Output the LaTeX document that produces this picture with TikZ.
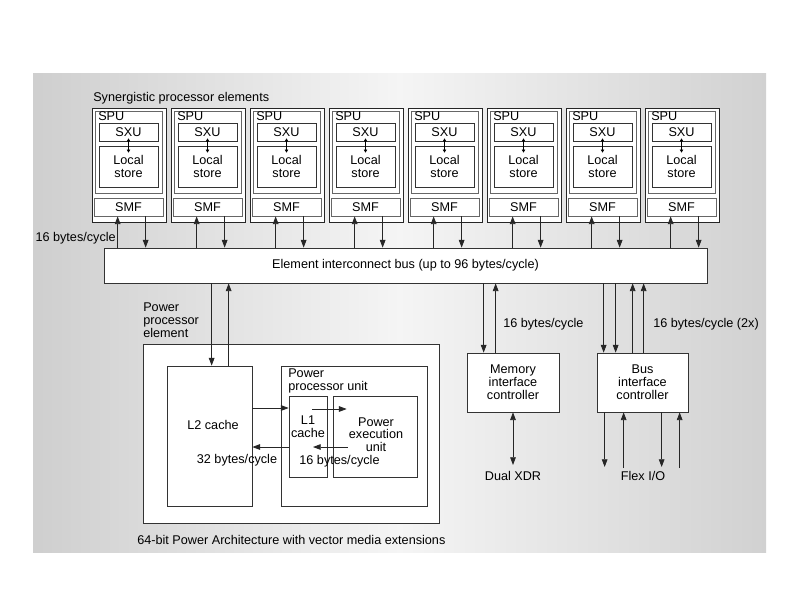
\documentclass[tikz,border=0pt]{standalone}
\usepackage{fontspec}
\setmainfont{Liberation Sans}
\usetikzlibrary{arrows.meta}
\newcommand{\pxu}{0.025cm}
\tikzset{box/.style={draw=black!80, line width=0.5pt, fill=white, inner sep=0pt, align=center},
  arr/.style={-{Triangle[length=5.5pt,width=4pt]}, line width=0.6pt, draw=black!85},
  dbl/.style={{Triangle[length=5.5pt,width=4pt]}-{Triangle[length=5.5pt,width=4pt]}, line width=0.6pt, draw=black!85},
  tiny/.style={{Triangle[length=2.2pt,width=2.4pt]}-{Triangle[length=2.2pt,width=2.4pt]}, line width=0.4pt},
  lbl/.style={inner sep=0pt, align=left}}

\begin{document}
\begin{tikzpicture}[x=\pxu, y=-\pxu, every node/.style={font=\fontsize{9}{9.3}\selectfont}]
    \useasboundingbox (0,0) rectangle (800,600);
    \shade[left color=gray!38, right color=gray!36, middle color=gray!8] (33,73) rectangle (766,552);

    \node[lbl, anchor=base west] (spel) at (93,101.5) {Synergistic processor elements};
    \node[box, minimum width=603*\pxu, minimum height=35*\pxu] (eib) at (405.5,265.5) {Element interconnect bus (up to 96 bytes/cycle)};

    \foreach \i in {0,...,7}{
        \pgfmathsetmacro{\sx}{92+79*\i}
        \node[box, draw=black!85, minimum width=74*\pxu, minimum height=114*\pxu] (spe\i) at (\sx+37,165) {};
        \node[box, draw=black!60, minimum width=67*\pxu, minimum height=82*\pxu] (spu\i) at (\sx+37,152) {};
        \node[lbl, anchor=base west] (spul\i) at (\sx+6,120.5) {SPU};
        \node[box, minimum width=59*\pxu, minimum height=18*\pxu] (sxu\i) at (\sx+36.5,132) {SXU};
        \node[box, minimum width=59*\pxu, minimum height=41*\pxu] (ls\i) at (\sx+36.5,166.5) {Local\\store};
        \draw[tiny] ([shift={(0,-3)}]sxu\i.south) -- ([shift={(0,7)}]ls\i.north);
        \node[box, draw=black!60, minimum width=69*\pxu, minimum height=18*\pxu] (smf\i) at (\sx+36.5,207) {SMF};
        \coordinate (su\i) at ([shift={(24,0)}]smf\i.south west);
        \coordinate (sd\i) at ([shift={(52,0)}]smf\i.south west);
        \draw[arr] (su\i |- eib.north) -- (su\i);
        \draw[arr] (sd\i) -- (sd\i |- eib.north);
    }
    \node[lbl, anchor=base east] (bwspe) at (116,241.5) {16 bytes/cycle};

    \node[lbl, anchor=north west] (ppel) at (143,302.5) {Power\\processor\\element};
    \node[box, minimum width=296*\pxu, minimum height=179*\pxu] (ppe) at (291,433.5) {};
    \node[box, minimum width=85*\pxu, minimum height=140*\pxu] (ltwo) at (209.5,436) {};
    \node[lbl, anchor=base] (ltwol) at (213,429.5) {L2 cache};
    \node[box, minimum width=146*\pxu, minimum height=140*\pxu] (ppu) at (354,436) {};
    \node[lbl, anchor=north west] (ppul) at (288,368.5) {Power\\processor unit};
    \node[box, minimum width=38*\pxu, minimum height=81*\pxu] (lone) at (308,436.5) {};
    \node[box, minimum width=84*\pxu, minimum height=81*\pxu] (pxu) at (375,436.5) {};
    \node[align=center, inner sep=0pt] (lonel) at (308,426.5) {L1\\cache};
    \node[align=center, inner sep=0pt, font=\fontsize{9}{9}\selectfont] (pxul) at (376,434.5) {Power\\execution\\unit};
    \node[lbl, anchor=base] (bwl2) at (237,463.5) {32 bytes/cycle};
    \node[lbl, anchor=base] (bwl1) at (339.5,464) {16 bytes/cycle};
    \node[lbl, anchor=base west] (isa) at (137,544.5) {64-bit Power Architecture with vector media extensions};

    \coordinate (pd) at ([shift={(45,0)}]ltwo.north west);
    \coordinate (pu) at ([shift={(62,0)}]ltwo.north west);
    \draw[arr] (pd |- eib.south) -- (pd);
    \draw[arr] (pu) -- (pu |- eib.south);

    \coordinate (l2a) at ([shift={(0,-28)}]ltwo.east);
    \coordinate (l2b) at ([shift={(0,11)}]ltwo.east);
    \draw[arr] (l2a) -- (l2a -| lone.west);
    \draw[arr] (l2b -| lone.west) -- (l2b);
    \draw[arr] ([shift={(4,-27.5)}]lone.center) -- ([shift={(14,-27.5)}]pxu.west);
    \draw[arr] ([shift={(15,10.5)}]pxu.west) -- ([shift={(5,10.5)}]lone.center);

    \node[box, minimum width=92*\pxu, minimum height=59*\pxu] (mic) at (513,382.5) {Memory\\interface\\controller};
    \node[box, minimum width=91*\pxu, minimum height=59*\pxu] (bic) at (642.5,382.5) {Bus\\interface\\controller};
    \node[lbl, anchor=base west] (bwmic) at (503,327.5) {16 bytes/cycle};
    \node[lbl, anchor=base west] (bwbic) at (653,327.5) {16 bytes/cycle (2x)};

    \coordinate (md) at ([shift={(17,0)}]mic.north west);
    \coordinate (mu) at ([shift={(29,0)}]mic.north west);
    \draw[arr] (md |- eib.south) -- (md);
    \draw[arr] (mu) -- (mu |- eib.south);
    \coordinate (xdr) at (513,465);
    \draw[dbl] (mic.south) -- (xdr);
    \node[lbl, anchor=base] (xdrl) at (513,480.5) {Dual XDR};

    \foreach \dx[count=\n] in {7,19,36,47}{
        \coordinate (bt\n) at ([shift={(\dx,0)}]bic.north west);
        \ifnum\n<3
            \draw[arr] (bt\n |- eib.south) -- (bt\n);
        \else
            \draw[arr] (bt\n) -- (bt\n |- eib.south);
        \fi
    }
    \foreach \dx[count=\n] in {8,27,65,83}{
        \coordinate (bb\n) at ([shift={(\dx,0)}]bic.south west);
        \coordinate (fx\n) at (bb\n |- xdr);
        \ifodd\n
            \draw[arr] (bb\n) -- ([shift={(0,2)}]fx\n);
        \else
            \draw[arr] ([shift={(0,3)}]fx\n) -- (bb\n);
        \fi
    }
    \node[lbl, anchor=base] (flexl) at (643,480.5) {Flex I/O};
\end{tikzpicture}
\end{document}
